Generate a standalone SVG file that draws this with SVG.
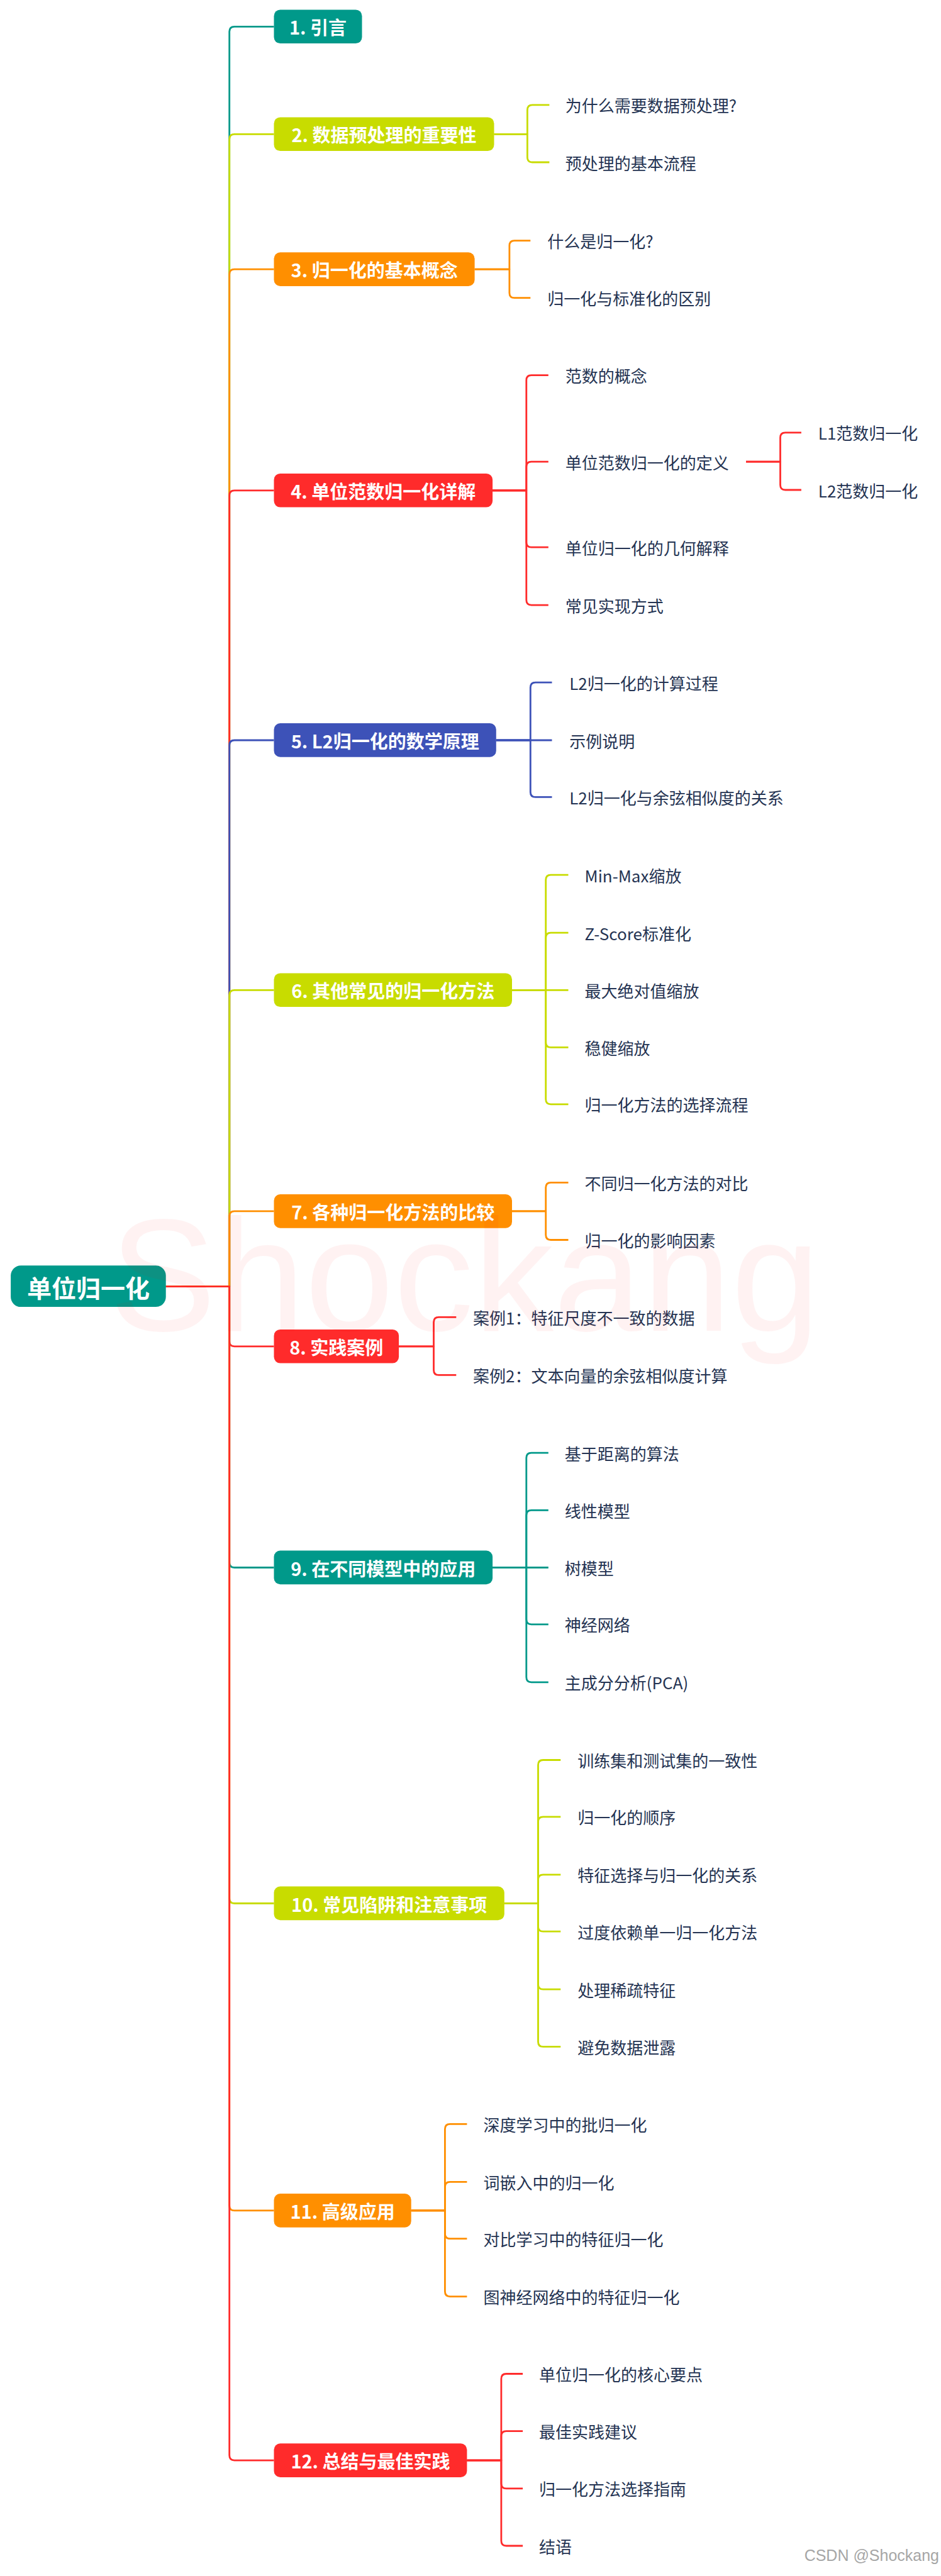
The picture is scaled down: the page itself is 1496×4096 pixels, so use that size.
<svg xmlns="http://www.w3.org/2000/svg" width="1496" height="4096" viewBox="0 0 1496 4096">
<style>
.ln{fill:none;stroke-width:2.8;stroke-linejoin:round}
.s1{stroke:#00998A}.s2{stroke:#C8DC00}.s3{stroke:#FF8F00}.s4{stroke:#FF2B2B}.s5{stroke:#3D52B8}
.f1{fill:#00998A}.f2{fill:#C8DC00}.f3{fill:#FF8F00}.f4{fill:#FF2B2B}.f5{fill:#3D52B8}
.nt{font-family:"Noto Sans CJK SC","Noto Sans",sans-serif;font-size:29px;font-weight:bold;fill:#fff;text-anchor:middle;dominant-baseline:central}
.rt{font-family:"Noto Sans CJK SC","Noto Sans",sans-serif;font-size:39px;font-weight:bold;fill:#fff;text-anchor:middle;dominant-baseline:central}
.ct{font-family:"Noto Sans CJK SC","Noto Sans",sans-serif;font-size:26px;fill:#243352;dominant-baseline:central}
</style>
<rect width="1496" height="4096" fill="#fff"/>
<g id="connectors">
<path class="ln s1" d="M263.7 2045.6H364.7V50.3Q364.7 42.3 372.7 42.3H435.5"/>
<path class="ln s2" d="M263.7 2045.6H364.7V221.3Q364.7 213.3 372.7 213.3H435.5"/>
<path class="ln s3" d="M263.7 2045.6H364.7V436.2Q364.7 428.2 372.7 428.2H435.5"/>
<path class="ln s4" d="M263.7 2045.6H364.7V787.8Q364.7 779.8 372.7 779.8H435.5"/>
<path class="ln s5" d="M263.7 2045.6H364.7V1185Q364.7 1177 372.7 1177H435.5"/>
<path class="ln s2" d="M263.7 2045.6H364.7V1582.3Q364.7 1574.3 372.7 1574.3H435.5"/>
<path class="ln s3" d="M263.7 2045.6H364.7V1933.9Q364.7 1925.9 372.7 1925.9H435.5"/>
<path class="ln s4" d="M263.7 2045.6H364.7V2132.8Q364.7 2140.8 372.7 2140.8H435.5"/>
<path class="ln s1" d="M263.7 2045.6H364.7V2484.5Q364.7 2492.5 372.7 2492.5H435.5"/>
<path class="ln s2" d="M263.7 2045.6H364.7V3018.5Q364.7 3026.5 372.7 3026.5H435.5"/>
<path class="ln s3" d="M263.7 2045.6H364.7V3506.9Q364.7 3514.9 372.7 3514.9H435.5"/>
<path class="ln s4" d="M263.7 2045.6H364.7V3904.1Q364.7 3912.1 372.7 3912.1H435.5"/>

<path class="ln s2" d="M785.5 213.3H838.4V174.9Q838.4 166.9 846.4 166.9H873.4"/>
<path class="ln s2" d="M785.5 213.3H838.4V250Q838.4 258 846.4 258H873.4"/>

<path class="ln s3" d="M754.6 428.2H809.9V390.6Q809.9 382.6 817.9 382.6H843.3"/>
<path class="ln s3" d="M754.6 428.2H809.9V465.7Q809.9 473.7 817.9 473.7H843.3"/>

<path class="ln s4" d="M783.1 779.8H836.8V604.7Q836.8 596.7 844.8 596.7H871.8"/>
<path class="ln s4" d="M783.1 779.8H836.8V742.2Q836.8 734.2 844.8 734.2H871.8"/>
<path class="ln s4" d="M783.1 779.8H836.8V862.2Q836.8 870.2 844.8 870.2H871.8"/>
<path class="ln s4" d="M783.1 779.8H836.8V954.1Q836.8 962.1 844.8 962.1H871.8"/>
<path class="ln s4" d="M1186 734.2H1240.5V695.8Q1240.5 687.8 1248.5 687.8H1273.9"/>
<path class="ln s4" d="M1186 734.2H1240.5V771Q1240.5 779 1248.5 779H1273.9"/>

<path class="ln s5" d="M788.8 1177H843.3V1093.1Q843.3 1085.1 851.3 1085.1H877.5"/>
<path class="ln s5" d="M788.8 1177H877.5"/>
<path class="ln s5" d="M788.8 1177H843.3V1259.4Q843.3 1267.4 851.3 1267.4H877.5"/>

<path class="ln s2" d="M814 1574.3H867.7V1399.1Q867.7 1391.1 875.7 1391.1H903.5"/>
<path class="ln s2" d="M814 1574.3H867.7V1491.1Q867.7 1483.1 875.7 1483.1H903.5"/>
<path class="ln s2" d="M814 1574.3H903.5"/>
<path class="ln s2" d="M814 1574.3H867.7V1657.4Q867.7 1665.4 875.7 1665.4H903.5"/>
<path class="ln s2" d="M814 1574.3H867.7V1747.8Q867.7 1755.8 875.7 1755.8H903.5"/>

<path class="ln s3" d="M814 1925.9H867.7V1888.3Q867.7 1880.3 875.7 1880.3H903.5"/>
<path class="ln s3" d="M814 1925.9H867.7V1963.5Q867.7 1971.5 875.7 1971.5H903.5"/>

<path class="ln s4" d="M634.1 2140.8H689.5V2102.4Q689.5 2094.4 697.5 2094.4H725.3"/>
<path class="ln s4" d="M634.1 2140.8H689.5V2178.4Q689.5 2186.4 697.5 2186.4H725.3"/>

<path class="ln s1" d="M783.1 2492.5H836.8V2318.1Q836.8 2310.1 844.8 2310.1H871.8"/>
<path class="ln s1" d="M783.1 2492.5H836.8V2409.3Q836.8 2401.3 844.8 2401.3H871.8"/>
<path class="ln s1" d="M783.1 2492.5H871.8"/>
<path class="ln s1" d="M783.1 2492.5H836.8V2574.8Q836.8 2582.8 844.8 2582.8H871.8"/>
<path class="ln s1" d="M783.1 2492.5H836.8V2666.8Q836.8 2674.8 844.8 2674.8H871.8"/>

<path class="ln s2" d="M801.8 3026.5H855.5V2806.5Q855.5 2798.5 863.5 2798.5H891.3"/>
<path class="ln s2" d="M801.8 3026.5H855.5V2896.9Q855.5 2888.9 863.5 2888.9H891.3"/>
<path class="ln s2" d="M801.8 3026.5H855.5V2988.9Q855.5 2980.9 863.5 2980.9H891.3"/>
<path class="ln s2" d="M801.8 3026.5H855.5V3063.2Q855.5 3071.2 863.5 3071.2H891.3"/>
<path class="ln s2" d="M801.8 3026.5H855.5V3155.2Q855.5 3163.2 863.5 3163.2H891.3"/>
<path class="ln s2" d="M801.8 3026.5H855.5V3246.4Q855.5 3254.4 863.5 3254.4H891.3"/>

<path class="ln s3" d="M653.7 3514.9H707.4V3385.3Q707.4 3377.3 715.4 3377.3H742.4"/>
<path class="ln s3" d="M653.7 3514.9H707.4V3477.3Q707.4 3469.3 715.4 3469.3H742.4"/>
<path class="ln s3" d="M653.7 3514.9H707.4V3551.6Q707.4 3559.6 715.4 3559.6H742.4"/>
<path class="ln s3" d="M653.7 3514.9H707.4V3643.6Q707.4 3651.6 715.4 3651.6H742.4"/>

<path class="ln s4" d="M742.4 3912.1H796.9V3782.5Q796.9 3774.5 804.9 3774.5H831.1"/>
<path class="ln s4" d="M742.4 3912.1H796.9V3873.7Q796.9 3865.7 804.9 3865.7H831.1"/>
<path class="ln s4" d="M742.4 3912.1H796.9V3948.9Q796.9 3956.9 804.9 3956.9H831.1"/>
<path class="ln s4" d="M742.4 3912.1H796.9V4040Q796.9 4048 804.9 4048H831.1"/>
</g>

<g id="root"><rect class="f1" x="17.1" y="2012.2" width="246.6" height="65.9" rx="16"/><text class="rt" x="140.4" y="2045.6">单位归一化</text></g>

<g id="n1"><rect class="f1" x="435.5" y="15.4" width="140" height="53.7" rx="10"/><text class="nt" x="505.5" y="42.3">1. 引言</text></g>
<g id="n2"><rect class="f2" x="435.5" y="186.4" width="350" height="53.7" rx="10"/><text class="nt" x="610.5" y="213.3">2. 数据预处理的重要性</text></g>
<g id="n3"><rect class="f3" x="435.5" y="401.3" width="319.1" height="53.7" rx="10"/><text class="nt" x="595.1" y="428.2">3. 归一化的基本概念</text></g>
<g id="n4"><rect class="f4" x="435.5" y="752.9" width="347.6" height="53.7" rx="10"/><text class="nt" x="609.3" y="779.8">4. 单位范数归一化详解</text></g>
<g id="n5"><rect class="f5" x="435.5" y="1150.1" width="353.3" height="53.7" rx="10"/><text class="nt" x="612.2" y="1177">5. L2归一化的数学原理</text></g>
<g id="n6"><rect class="f2" x="435.5" y="1547.4" width="378.5" height="53.7" rx="10"/><text class="nt" x="624.8" y="1574.3">6. 其他常见的归一化方法</text></g>
<g id="n7"><rect class="f3" x="435.5" y="1899" width="378.5" height="53.7" rx="10"/><text class="nt" x="624.8" y="1925.9">7. 各种归一化方法的比较</text></g>
<g id="n8"><rect class="f4" x="435.5" y="2113.9" width="198.6" height="53.7" rx="10"/><text class="nt" x="534.8" y="2140.8">8. 实践案例</text></g>
<g id="n9"><rect class="f1" x="435.5" y="2465.6" width="347.6" height="53.7" rx="10"/><text class="nt" x="609.3" y="2492.5">9. 在不同模型中的应用</text></g>
<g id="n10"><rect class="f2" x="435.5" y="2999.6" width="366.3" height="53.7" rx="10"/><text class="nt" x="618.7" y="3026.5">10. 常见陷阱和注意事项</text></g>
<g id="n11"><rect class="f3" x="435.5" y="3488" width="218.2" height="53.7" rx="10"/><text class="nt" x="544.6" y="3514.9">11. 高级应用</text></g>
<g id="n12"><rect class="f4" x="435.5" y="3885.2" width="306.9" height="53.7" rx="10"/><text class="nt" x="589" y="3912.1">12. 总结与最佳实践</text></g>

<g id="n2-1"><text class="ct" x="898.7" y="166.9">为什么需要数据预处理?</text></g>
<g id="n2-2"><text class="ct" x="898.7" y="258">预处理的基本流程</text></g>
<g id="n3-1"><text class="ct" x="870.2" y="382.6">什么是归一化?</text></g>
<g id="n3-2"><text class="ct" x="870.2" y="473.7">归一化与标准化的区别</text></g>
<g id="n4-1"><text class="ct" x="898.7" y="596.7">范数的概念</text></g>
<g id="n4-2"><text class="ct" x="898.7" y="734.2">单位范数归一化的定义</text></g>
<g id="n4-2-1"><text class="ct" x="1300.8" y="687.8">L1范数归一化</text></g>
<g id="n4-2-2"><text class="ct" x="1300.8" y="779">L2范数归一化</text></g>
<g id="n4-3"><text class="ct" x="898.7" y="870.2">单位归一化的几何解释</text></g>
<g id="n4-4"><text class="ct" x="898.7" y="962.1">常见实现方式</text></g>
<g id="n5-1"><text class="ct" x="905.2" y="1085.1">L2归一化的计算过程</text></g>
<g id="n5-2"><text class="ct" x="905.2" y="1177">示例说明</text></g>
<g id="n5-3"><text class="ct" x="905.2" y="1267.4">L2归一化与余弦相似度的关系</text></g>
<g id="n6-1"><text class="ct" x="929.6" y="1391.1">Min-Max缩放</text></g>
<g id="n6-2"><text class="ct" x="929.6" y="1483.1">Z-Score标准化</text></g>
<g id="n6-3"><text class="ct" x="929.6" y="1574.3">最大绝对值缩放</text></g>
<g id="n6-4"><text class="ct" x="929.6" y="1665.4">稳健缩放</text></g>
<g id="n6-5"><text class="ct" x="929.6" y="1755.8">归一化方法的选择流程</text></g>
<g id="n7-1"><text class="ct" x="929.6" y="1880.3">不同归一化方法的对比</text></g>
<g id="n7-2"><text class="ct" x="929.6" y="1971.5">归一化的影响因素</text></g>
<g id="n8-1"><text class="ct" x="752.1" y="2094.4">案例1：特征尺度不一致的数据</text></g>
<g id="n8-2"><text class="ct" x="752.1" y="2186.4">案例2：文本向量的余弦相似度计算</text></g>
<g id="n9-1"><text class="ct" x="897.8" y="2310.1">基于距离的算法</text></g>
<g id="n9-2"><text class="ct" x="897.8" y="2401.3">线性模型</text></g>
<g id="n9-3"><text class="ct" x="897.8" y="2492.5">树模型</text></g>
<g id="n9-4"><text class="ct" x="897.8" y="2582.8">神经网络</text></g>
<g id="n9-5"><text class="ct" x="897.8" y="2674.8">主成分分析(PCA)</text></g>
<g id="n10-1"><text class="ct" x="918.2" y="2798.5">训练集和测试集的一致性</text></g>
<g id="n10-2"><text class="ct" x="918.2" y="2888.9">归一化的顺序</text></g>
<g id="n10-3"><text class="ct" x="918.2" y="2980.9">特征选择与归一化的关系</text></g>
<g id="n10-4"><text class="ct" x="918.2" y="3071.2">过度依赖单一归一化方法</text></g>
<g id="n10-5"><text class="ct" x="918.2" y="3163.2">处理稀疏特征</text></g>
<g id="n10-6"><text class="ct" x="918.2" y="3254.4">避免数据泄露</text></g>
<g id="n11-1"><text class="ct" x="768.4" y="3377.3">深度学习中的批归一化</text></g>
<g id="n11-2"><text class="ct" x="768.4" y="3469.3">词嵌入中的归一化</text></g>
<g id="n11-3"><text class="ct" x="768.4" y="3559.6">对比学习中的特征归一化</text></g>
<g id="n11-4"><text class="ct" x="768.4" y="3651.6">图神经网络中的特征归一化</text></g>
<g id="n12-1"><text class="ct" x="857.1" y="3774.5">单位归一化的核心要点</text></g>
<g id="n12-2"><text class="ct" x="857.1" y="3865.7">最佳实践建议</text></g>
<g id="n12-3"><text class="ct" x="857.1" y="3956.9">归一化方法选择指南</text></g>
<g id="n12-4"><text class="ct" x="857.1" y="4048">结语</text></g>

<g id="watermarks">
<text x="174" y="2116" font-family="Liberation Sans, Arial, sans-serif" font-size="254" fill="#FF0000" fill-opacity="0.05">Shockang</text>
<text x="1493" y="4072" text-anchor="end" font-family="Liberation Sans, Arial, sans-serif" font-size="25" fill="#A6A6A6">CSDN @Shockang</text>
</g>
</svg>
